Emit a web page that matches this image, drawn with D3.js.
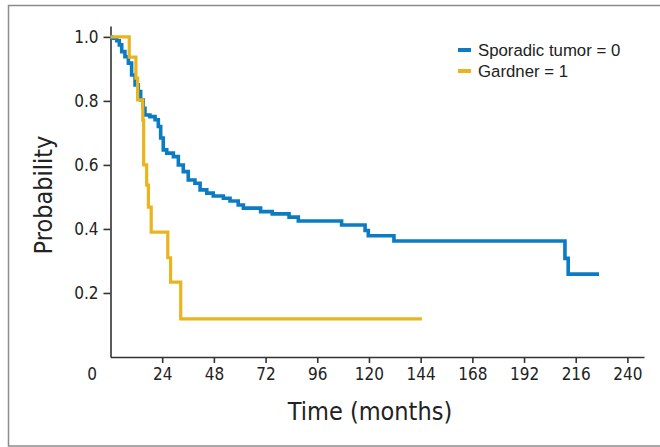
<!DOCTYPE html>
<html>
<head>
<meta charset="utf-8">
<script src="https://cdn.jsdelivr.net/npm/d3@7"></script>
<style>
  body { margin: 0; background: #fff; }
  svg text { fill: #222; }
  .tick text { font-family: "Liberation Sans Narrow", "DejaVu Sans Condensed", sans-serif; font-size: 17px; }
  .title { font-family: "Liberation Sans Narrow", "DejaVu Sans Condensed", sans-serif; font-size: 25px; }
  .legend text { font-family: "Liberation Sans", Arial, sans-serif; font-size: 16.8px; }
</style>
</head>
<body>
<div id="chart"></div>
<script>
const W = 660, H = 447;
const MARGIN = { LEFT: 110.5, RIGHT: 16, TOP: 26, BOTTOM: 90 };

// series: time (months) where survival drops, and the new value
const sporadicTime = [0, 0.6, 2.9, 4.1, 5.2, 6.7, 8.3, 9.8, 11.4, 12.9, 14.0, 15.2, 16.0, 18.3, 20.7, 22.2, 23.3, 24.5,
  26.1, 29.2, 31.5, 33.8, 36.1, 39.2, 41.6, 44.7, 47.7, 52.4, 55.5, 59.3, 61.7, 69.7, 75.1, 82.9, 87.2,
  107.3, 118.2, 119.7, 131.6, 211.0, 212.5, 226.8];
const sporadicSurv = [1.0, 0.996, 0.988, 0.975, 0.954, 0.938, 0.918, 0.881, 0.85, 0.829, 0.803, 0.777, 0.756, 0.751, 0.741, 0.72, 0.684, 0.647,
  0.637, 0.626, 0.6, 0.579, 0.553, 0.543, 0.522, 0.512, 0.503, 0.496, 0.4875, 0.475, 0.465, 0.454, 0.447, 0.437, 0.425,
  0.4125, 0.395, 0.379, 0.3625, 0.308, 0.259, 0.259];

const gardnerTime = [0, 8.7, 11.8, 12.6, 15.0, 15.4, 16.8, 17.6, 18.9, 26.6, 27.9, 32.6, 144.6];
const gardnerSurv = [1.0, 0.937, 0.871, 0.803, 0.74, 0.6, 0.537, 0.468, 0.39, 0.31, 0.234, 0.119, 0.119];

const xTicks = [0, 24, 48, 72, 96, 120, 144, 168, 192, 216, 240];
const yTicks = [0.2, 0.4, 0.6, 0.8, 1.0];
const seriesNames = ["Sporadic tumor = 0", "Gardner = 1"];
const seriesColors = ["#0b7cc3", "#e9b41c"];

const svg = d3.select("#chart").append("svg").attr("width", W).attr("height", H);

// outer frame
svg.append("rect")
  .attr("x", 8.5).attr("y", 5.5)
  .attr("width", 660).attr("height", 440.5)
  .attr("fill", "none").attr("stroke", "#8c8c8c").attr("stroke-width", 1.5);

const x = d3.scaleLinear().domain([0, 247.7]).range([MARGIN.LEFT, W - MARGIN.RIGHT]);
const y = d3.scaleLinear().domain([0, 1.034]).range([H - MARGIN.BOTTOM, MARGIN.TOP]);

const xAxis = svg.append("g")
  .attr("transform", `translate(0, ${H - MARGIN.BOTTOM})`)
  .call(d3.axisBottom(x).tickValues(xTicks).tickSize(6).tickPadding(5).tickSizeOuter(0));
xAxis.selectAll(".tick").filter(d => d === 0).select("line").remove();
xAxis.selectAll(".tick").filter(d => d === 0).select("text").attr("dx", -19);

const yAxis = svg.append("g")
  .attr("transform", `translate(${MARGIN.LEFT}, 0)`)
  .call(d3.axisLeft(y).tickValues(yTicks).tickFormat(d3.format(".1f")).tickSize(7).tickPadding(5).tickSizeOuter(0));

svg.selectAll(".domain, .tick line").attr("stroke", "#333").attr("stroke-width", 1.6);

svg.append("text").attr("class", "title")
  .attr("x", 370).attr("y", 420)
  .attr("text-anchor", "middle")
  .text("Time (months)");

svg.append("text").attr("class", "title")
  .attr("transform", "translate(52, 195) rotate(-90)")
  .attr("text-anchor", "middle")
  .text("Probability");

const line = d3.line()
  .x(d => x(d[0]))
  .y(d => y(d[1]))
  .curve(d3.curveStepAfter);

const series = [
  { name: seriesNames[0], pts: d3.zip(sporadicTime, sporadicSurv), color: seriesColors[0], w: 3.6 },
  { name: seriesNames[1], pts: d3.zip(gardnerTime, gardnerSurv), color: seriesColors[1], w: 3.2 }
];

// gardner drawn on top, as at the start of the reference
series.forEach(s => {
  svg.append("path").datum(s.pts)
    .attr("d", line).attr("fill", "none")
    .attr("stroke", s.color).attr("stroke-width", s.w);
});

const legend = svg.append("g").attr("class", "legend").attr("transform", "translate(458, 50)");
const items = legend.selectAll("g").data(series).enter().append("g")
  .attr("transform", (d, i) => `translate(0, ${i * 21})`);
items.append("line")
  .attr("x1", 0).attr("x2", 13)
  .attr("stroke", d => d.color).attr("stroke-width", 4);
items.append("text")
  .attr("x", 20).attr("y", 6)
  .text(d => d.name);
</script>
</body>
</html>
